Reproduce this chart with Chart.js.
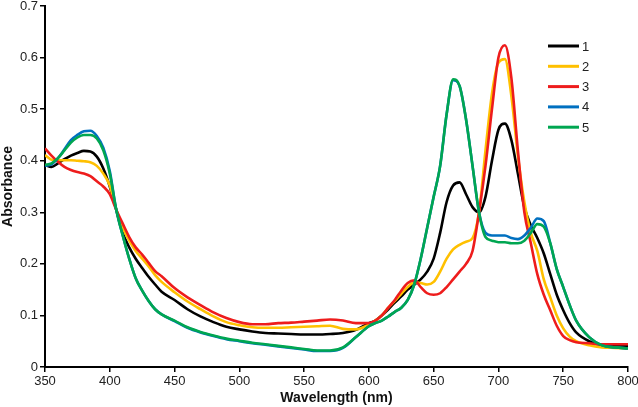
<!DOCTYPE html>
<html>
<head>
<meta charset="utf-8">
<script src="https://cdn.jsdelivr.net/npm/chart.js@4"></script>
<style>
  html, body { margin: 0; padding: 0; background: #fff; }
  #wrap { width: 638px; height: 407px; }
</style>
</head>
<body>
<div id="wrap"><canvas id="chart"></canvas></div>
<script>
// wavelengths (nm) shared by every spectrum
const wavelengths = [
  350, 355, 360, 365, 370, 375, 380, 385, 390, 395, 400, 405, 410, 415, 420, 425, 430, 435, 440,
  450, 460, 470, 480, 490, 500, 510, 520, 530, 540, 550, 560, 570, 580, 590, 600,
  605, 610, 615, 620, 625, 630, 635, 640, 645, 650, 655, 660, 665, 670, 675, 680, 685, 690, 695,
  700, 705, 710, 715, 720, 725, 730, 735, 740, 745, 750, 755, 760,
  770, 780, 790, 800
];

const labels = ['1', '2', '3', '4', '5'];
const colors = ['#000000', '#FFC000', '#EE1C1C', '#0070C0', '#00A651'];

const abs1 = [
  0.392, 0.388, 0.395, 0.403, 0.410, 0.415, 0.419, 0.418, 0.408, 0.385, 0.350, 0.305, 0.260, 0.232, 0.210, 0.192, 0.175, 0.160, 0.146,
  0.130, 0.112, 0.098, 0.087, 0.078, 0.073, 0.069, 0.066, 0.065, 0.064, 0.063, 0.063, 0.064, 0.066, 0.072, 0.085,
  0.090, 0.100, 0.112, 0.125, 0.137, 0.150, 0.160, 0.170, 0.185, 0.210, 0.260, 0.320, 0.352, 0.358, 0.335, 0.310, 0.300, 0.330, 0.400,
  0.460, 0.472, 0.440, 0.375, 0.310, 0.275, 0.250, 0.220, 0.180, 0.140, 0.110, 0.085, 0.067,
  0.050, 0.042, 0.040, 0.040
];
const abs2 = [
  0.411, 0.402, 0.401, 0.401, 0.401, 0.400, 0.399, 0.397, 0.390, 0.375, 0.352, 0.305, 0.270, 0.245, 0.225, 0.210, 0.195, 0.178, 0.165,
  0.145, 0.127, 0.112, 0.098, 0.087, 0.081, 0.077, 0.076, 0.076, 0.077, 0.078, 0.079, 0.080, 0.074, 0.073, 0.082,
  0.090, 0.100, 0.115, 0.128, 0.142, 0.155, 0.164, 0.163, 0.160, 0.165, 0.185, 0.210, 0.228, 0.237, 0.243, 0.250, 0.300, 0.420, 0.530,
  0.590, 0.597, 0.525, 0.410, 0.320, 0.260, 0.225, 0.170, 0.135, 0.100, 0.075, 0.059, 0.050,
  0.042, 0.038, 0.037, 0.036
];
const abs3 = [
  0.424, 0.410, 0.398, 0.388, 0.382, 0.378, 0.375, 0.370, 0.360, 0.350, 0.335, 0.305, 0.278, 0.252, 0.232, 0.218, 0.202, 0.186, 0.176,
  0.153, 0.135, 0.120, 0.106, 0.095, 0.087, 0.083, 0.083, 0.085, 0.086, 0.088, 0.090, 0.092, 0.090, 0.085, 0.085,
  0.090, 0.100, 0.115, 0.130, 0.148, 0.163, 0.168, 0.155, 0.143, 0.140, 0.143, 0.155, 0.170, 0.185, 0.200, 0.225, 0.300, 0.390, 0.500,
  0.600, 0.624, 0.560, 0.420, 0.300, 0.240, 0.180, 0.140, 0.110, 0.080, 0.060, 0.052, 0.048,
  0.046, 0.044, 0.044, 0.044
];
const abs4 = [
  0.390, 0.393, 0.405, 0.422, 0.440, 0.450, 0.457, 0.458, 0.448, 0.425, 0.380, 0.305, 0.255, 0.210, 0.172, 0.148, 0.128, 0.112, 0.102,
  0.089, 0.076, 0.067, 0.060, 0.054, 0.050, 0.046, 0.043, 0.040, 0.037, 0.034, 0.031, 0.031, 0.037, 0.058, 0.079,
  0.085, 0.090, 0.098, 0.107, 0.115, 0.130, 0.160, 0.210, 0.270, 0.330, 0.390, 0.490, 0.556, 0.545, 0.480, 0.390, 0.300, 0.260, 0.255,
  0.255, 0.255, 0.250, 0.248, 0.255, 0.270, 0.288, 0.283, 0.240, 0.190, 0.155, 0.120, 0.090,
  0.058, 0.042, 0.038, 0.036
];
const abs5 = [
  0.392, 0.395, 0.405, 0.420, 0.435, 0.445, 0.450, 0.450, 0.443, 0.420, 0.375, 0.305, 0.255, 0.210, 0.172, 0.148, 0.128, 0.112, 0.102,
  0.090, 0.077, 0.068, 0.061, 0.055, 0.051, 0.047, 0.044, 0.041, 0.038, 0.035, 0.032, 0.032, 0.038, 0.058, 0.079,
  0.085, 0.090, 0.098, 0.107, 0.115, 0.130, 0.160, 0.210, 0.270, 0.330, 0.390, 0.490, 0.558, 0.545, 0.480, 0.390, 0.300, 0.252, 0.245,
  0.242, 0.242, 0.240, 0.240, 0.245, 0.260, 0.277, 0.272, 0.240, 0.190, 0.155, 0.120, 0.090,
  0.058, 0.042, 0.038, 0.036
];
const series = [abs1, abs2, abs3, abs4, abs5];

const xTicks = [350, 400, 450, 500, 550, 600, 650, 700, 750, 800];
const yTicks = [0, 0.1, 0.2, 0.3, 0.4, 0.5, 0.6, 0.7];

const datasets = series.map((vals, i) => ({
  label: labels[i],
  data: vals.map((v, j) => ({ x: wavelengths[j], y: v })),
  borderColor: colors[i],
  backgroundColor: colors[i],
  borderWidth: 2.6,
  pointRadius: 0,
  cubicInterpolationMode: 'monotone',
  order: series.length - i   // series 5 ends up on top, like the original
}));

// legend drawn as a vertical list inside the plot
const sideLegend = {
  id: 'sideLegend',
  afterDraw(chart) {
    const ctx = chart.ctx;
    const x0 = chart.chartArea.right - 80;
    let y = 46;
    ctx.save();
    ctx.font = '13px "Liberation Sans", Arial, sans-serif';
    ctx.textBaseline = 'middle';
    ctx.fillStyle = '#222';
    chart.data.datasets.forEach(ds => {
      ctx.strokeStyle = ds.borderColor;
      ctx.lineWidth = 3;
      ctx.beginPath();
      ctx.moveTo(x0, y);
      ctx.lineTo(x0 + 31, y);
      ctx.stroke();
      ctx.fillText(ds.label, x0 + 34, y + 1);
      y += 20.3;
    });
    ctx.restore();
  }
};

const font = { family: '"Liberation Sans", Arial, sans-serif', size: 13 };

new Chart(document.getElementById('chart'), {
  type: 'line',
  data: { datasets: datasets },
  plugins: [sideLegend],
  options: {
    responsive: true,
    maintainAspectRatio: false,
    animation: false,
    layout: { padding: { left: 0, right: 0, top: 0, bottom: 0 } },
    plugins: { legend: { display: false }, tooltip: { enabled: false } },
    scales: {
      x: {
        type: 'linear',
        min: 350,
        max: 800,
        afterBuildTicks: s => { s.ticks = xTicks.map(v => ({ value: v })); },
        afterFit: s => { s.height = 40; s.paddingRight = 10; },
        grid: { drawOnChartArea: false, drawTicks: true, tickLength: 5, color: '#000', lineWidth: 1.5 },
        border: { display: true, color: '#000', width: 2 },
        ticks: { color: '#222', font: font, padding: 2, maxRotation: 0 },
        title: { display: true, text: 'Wavelength (nm)', color: '#111',
                 font: { family: font.family, size: 14, weight: 'bold' }, padding: { top: 0, bottom: 0 } }
      },
      y: {
        min: 0,
        max: 0.7,
        afterBuildTicks: s => { s.ticks = yTicks.map(v => ({ value: v })); },
        afterFit: s => { s.width = 45; s.paddingTop = 6; },
        grid: { drawOnChartArea: false, drawTicks: true, tickLength: 5, color: '#000', lineWidth: 1.5 },
        border: { display: true, color: '#000', width: 2 },
        ticks: { color: '#222', font: font, padding: 2 },
        title: { display: true, text: 'Absorbance', color: '#111',
                 font: { family: font.family, size: 14, weight: 'bold' }, padding: { top: 0, bottom: 0 } }
      }
    }
  }
});
</script>
</body>
</html>
